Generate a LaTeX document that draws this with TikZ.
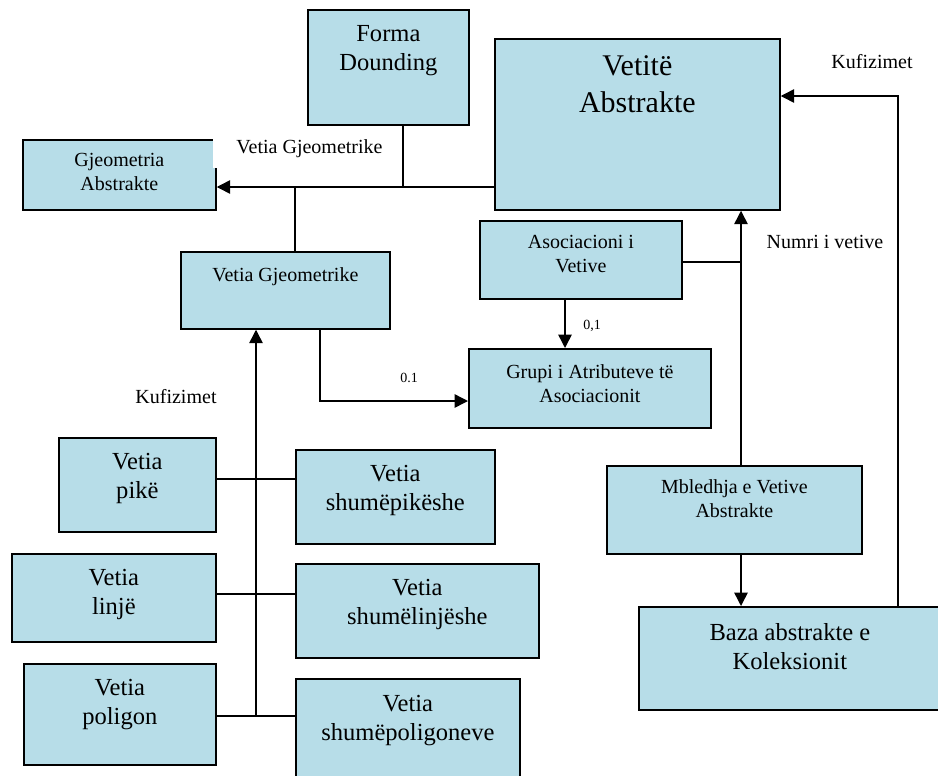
\documentclass[tikz,border=0pt]{standalone}
\usepackage{fontspec}
\setmainfont{Liberation Serif}
\usepackage{tikz}
\usetikzlibrary{arrows.meta,positioning}
\definecolor{boxblue}{RGB}{183,221,232}
\tikzset{
    component/.style={
    rectangle,draw=black,fill=boxblue,line width=1.3pt,inner sep=0pt,anchor=north west
    },
    boxsize/.style 2 args={
    minimum width=#1*0.75pt,minimum height=#2*0.75pt
    },
    hugetext/.style={
    font=\fontsize{22.5pt}{27.75pt}\selectfont,align=center,inner sep=0pt,anchor=north
    },
    bigtext/.style={
    font=\fontsize{18.4pt}{22pt}\selectfont,align=center,inner sep=0pt,anchor=north
    },
    midtext/.style={
    font=\fontsize{15pt}{18pt}\selectfont,align=center,inner sep=0pt,anchor=north
    },
    smalltext/.style={
    font=\fontsize{10.5pt}{12pt}\selectfont,inner sep=0pt,anchor=north
    },
    connection/.style={
    draw=black,line width=1.1pt
    },
    arrowline/.style={
    connection,-{Triangle[length=10pt,width=10pt]}
    },
}
\begin{document}
\begin{tikzpicture}[x=0.75pt,y=-0.75pt]
   \useasboundingbox (0,0) rectangle (938,775);
   % kutite
   \node[component,boxsize={161}{115}] (forma) at (307,9) {};
   \node[component,boxsize={285}{171}] (vetite) at (494,38) {};
   \node[component,boxsize={193}{70}] (gjeom) at (22,139) {};
   \node[component,boxsize={209}{77}] (vgjeo) at (180,251) {};
   \node[component,boxsize={202}{78}] (asoc) at (479,220) {};
   \node[component,boxsize={242}{79}] (grupi) at (468,348) {};
   \node[component,boxsize={255}{88}] (mbledh) at (606,465) {};
   \node[component,boxsize={302}{103}] (baza) at (638,606) {};
   \node[component,boxsize={157}{94}] (pike) at (58,437) {};
   \node[component,boxsize={199}{94}] (mpike) at (295,449) {};
   \node[component,boxsize={204}{88}] (linje) at (11,553) {};
   \node[component,boxsize={243}{94}] (mlinje) at (295,563) {};
   \node[component,boxsize={192}{101}] (poligon) at (23,663) {};
   \node[component,boxsize={224}{122}] (mpolig) at (295,678) {};

   % tekstet
   \node[bigtext,below=12pt of forma.north] (formatxt) {Forma\\Dounding};
   \node[hugetext,below=12.75pt of vetite.north] (vetitetxt) {Vetitë\\Abstrakte};
   \node[midtext,below=10.5pt of gjeom.north] (gjeomtxt) {Gjeometria\\Abstrakte};
   \node[midtext,below=12pt of vgjeo.north] (vgjeotxt) {Vetia Gjeometrike};
   \node[midtext,below=11.25pt of asoc.north] (asoctxt) {Asociacioni i\\Vetive};
   \node[midtext,below=12pt of grupi.north] (grupitxt) {Grupi i Atributeve të\\Asociacionit};
   \node[midtext,below=10.5pt of mbledh.north] (mbledhtxt) {Mbledhja e Vetive\\Abstrakte};
   \node[bigtext,below=12.75pt of baza.north] (bazatxt) {Baza abstrakte e\\Koleksionit};
   \node[bigtext,below=12pt of pike.north] (piketxt) {Vetia\\pikë};
   \node[bigtext,below=12pt of mpike.north] (mpiketxt) {Vetia\\shumëpikëshe};
   \node[bigtext,below=12pt of linje.north] (linjetxt) {Vetia\\linjë};
   \node[bigtext,below=12pt of mlinje.north] (mlinjetxt) {Vetia\\shumëlinjëshe};
   \node[bigtext,below=12pt of poligon.north] (poligontxt) {Vetia\\poligon};
   \node[bigtext,below=12.75pt of mpolig.north] (mpoligtxt) {Vetia\\shumëpoligoneve};

   \node[midtext,fill=white,inner ysep=8.25pt,minimum width=144.75pt] (lblgeo) at (309.5,128) {Vetia Gjeometrike};
   \node[midtext] (lblkufr) at (872,54) {Kufizimet};
   \node[midtext] (lblnumri) at (825,235) {Numri i vetive};
   \node[midtext] (lblkufl) at (176,389) {Kufizimet};
   \node[smalltext] (lblasoc) at (592,320) {0,1};
   \node[smalltext] (lblvg) at (409,373) {0.1};

   % lidhjet
   \coordinate (hub) at (403,187);
   \coordinate (hubv) at (295,187);
   \coordinate (trunk) at (256,716);
   \coordinate (rowp) at (256,479);
   \coordinate (rowl) at (256,594);
   \coordinate (bend) at (320,401);
   \coordinate (down) at (565,300);
   \coordinate (up) at (741,262);
   \coordinate (back) at (898,96);

   \draw[arrowline] (vetite.west |- hub) -- (gjeom.east |- hub);
   \draw[connection] (hub |- forma.south) -- (hub);
   \draw[connection] (hubv) -- (hubv |- vgjeo.north);
   \draw[arrowline] (trunk) -- (trunk |- vgjeo.south);
   \draw[connection] (pike.east |- rowp) -- (mpike.west |- rowp);
   \draw[connection] (linje.east |- rowl) -- (mlinje.west |- rowl);
   \draw[connection] (poligon.east |- trunk) -- (mpolig.west |- trunk);
   \draw[arrowline] (bend |- vgjeo.south) -- (bend) -- (grupi.west |- bend);
   \draw[arrowline] (down |- asoc.south) -- (down |- grupi.north);
   \draw[connection] (asoc.east |- up) -- (up);
   \draw[arrowline] (up |- mbledh.north) -- (up |- vetite.south);
   \draw[arrowline] (up |- mbledh.south) -- (up |- baza.north);
   \draw[arrowline] (back |- baza.north) -- (back) -- (vetite.east |- back);
\end{tikzpicture}
\end{document}
